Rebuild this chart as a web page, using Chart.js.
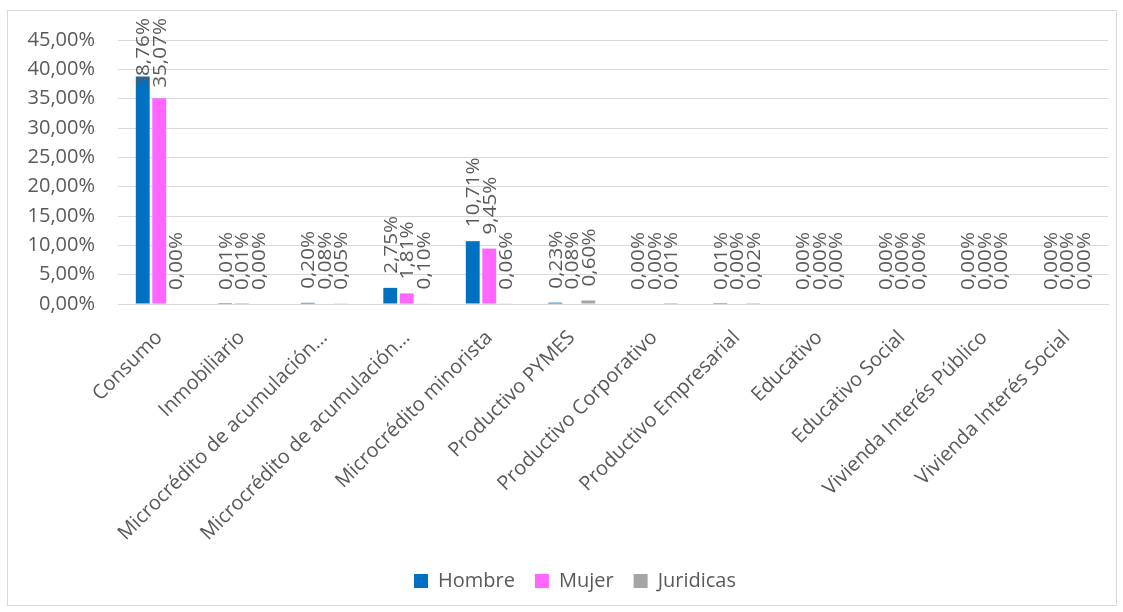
<!DOCTYPE html>
<html>
<head>
<meta charset="utf-8">
<script src="https://cdn.jsdelivr.net/npm/chart.js@4.4.1/dist/chart.umd.min.js"></script>
<style>
  body { margin: 0; background: #fff; }
  #chart { display: block; }
</style>
</head>
<body>
<canvas id="chart" width="1123" height="612"></canvas>
<script>
// Data (percent)
const categories = ['Consumo', 'Inmobiliario', 'Microcrédito de acumulación…', 'Microcrédito de acumulación…',
    'Microcrédito minorista', 'Productivo PYMES', 'Productivo Corporativo', 'Productivo Empresarial',
    'Educativo', 'Educativo Social', 'Vivienda Interés Público', 'Vivienda Interés Social'];
const hombre = [38.76, 0.01, 0.20, 2.75, 10.71, 0.23, 0.00, 0.01, 0.00, 0.00, 0.00, 0.00];
const mujer = [35.07, 0.01, 0.08, 1.81, 9.45, 0.08, 0.00, 0.00, 0.00, 0.00, 0.00, 0.00];
const juridicas = [0.00, 0.00, 0.05, 0.10, 0.06, 0.60, 0.01, 0.02, 0.00, 0.00, 0.00, 0.00];
const yTicks = [0, 5, 10, 15, 20, 25, 30, 35, 40, 45];

const textColor = '#595959';
const fontFamily = '"Open Sans", sans-serif';

function pct(v) {
    return v.toFixed(2).replace('.', ',') + '%';
}

// outer frame of the chart
const framePlugin = {
    id: 'frame',
    beforeDraw(chart) {
        const ctx = chart.ctx;
        ctx.save();
        ctx.fillStyle = '#fff';
        ctx.fillRect(0, 0, chart.width, chart.height);
        ctx.strokeStyle = '#d9d9d9';
        ctx.lineWidth = 1;
        ctx.strokeRect(7.5, 10.5, 1109, 595);
        ctx.restore();
    },
    afterLayout(chart) {
        // legend sits a bit right of the canvas centre, like the original
        chart.legend.left += 42;
    }
};

// vertical value labels above each bar
const valueLabels = {
    id: 'valueLabels',
    afterDatasetsDraw(chart) {
        const ctx = chart.ctx;
        const stretch = 1.09;
        ctx.save();
        ctx.font = '19px ' + fontFamily;
        ctx.fillStyle = textColor;
        ctx.textAlign = 'left';
        ctx.textBaseline = 'middle';
        chart.data.datasets.forEach((ds, i) => {
            const meta = chart.getDatasetMeta(i);
            meta.data.forEach((bar, j) => {
                const txt = pct(ds.data[j]);
                const w = ctx.measureText(txt).width * stretch;
                const y0 = Math.max(bar.y - 14, 18 + w);
                ctx.save();
                ctx.translate(bar.x, y0);
                ctx.rotate(-Math.PI / 2);
                ctx.scale(stretch, 1);
                ctx.fillText(txt, 0, 1);
                ctx.restore();
            });
        });
        ctx.restore();
    }
};

new Chart(document.getElementById('chart'), {
    type: 'bar',
    data: {
        labels: categories,
        datasets: [
            { label: 'Hombre', data: hombre, backgroundColor: '#0070C0' },
            { label: 'Mujer', data: mujer, backgroundColor: '#FF66FF' },
            { label: 'Juridicas', data: juridicas, backgroundColor: '#A5A5A5' }
        ]
    },
    options: {
        responsive: false,
        animation: false,
        categoryPercentage: 0.6,
        barPercentage: 0.84,
        layout: { padding: { left: 0, right: 15, top: 40, bottom: 11 } },
        scales: {
            x: {
                grid: { display: false, drawTicks: false },
                border: { color: '#d9d9d9' },
                ticks: {
                    color: textColor,
                    font: { family: fontFamily, size: 20 },
                    maxRotation: 45,
                    minRotation: 45,
                    autoSkip: false,
                    padding: 22
                },
                afterFit(scale) { scale.height = 247; }
            },
            y: {
                min: 0,
                max: 45,
                afterBuildTicks(scale) { scale.ticks = yTicks.map(v => ({ value: v })); },
                grid: { color: '#d9d9d9', drawTicks: false },
                border: { display: false },
                ticks: {
                    color: textColor,
                    font: { family: fontFamily, size: 20 },
                    padding: 23,
                    callback: v => pct(v)
                },
                afterFit(scale) { scale.width = 118; }
            }
        },
        plugins: {
            legend: {
                position: 'bottom',
                labels: {
                    color: textColor,
                    font: { family: fontFamily, size: 20 },
                    boxWidth: 14,
                    boxHeight: 14,
                    padding: 20
                }
            },
            tooltip: { enabled: false }
        }
    },
    plugins: [framePlugin, valueLabels]
});
</script>
</body>
</html>
